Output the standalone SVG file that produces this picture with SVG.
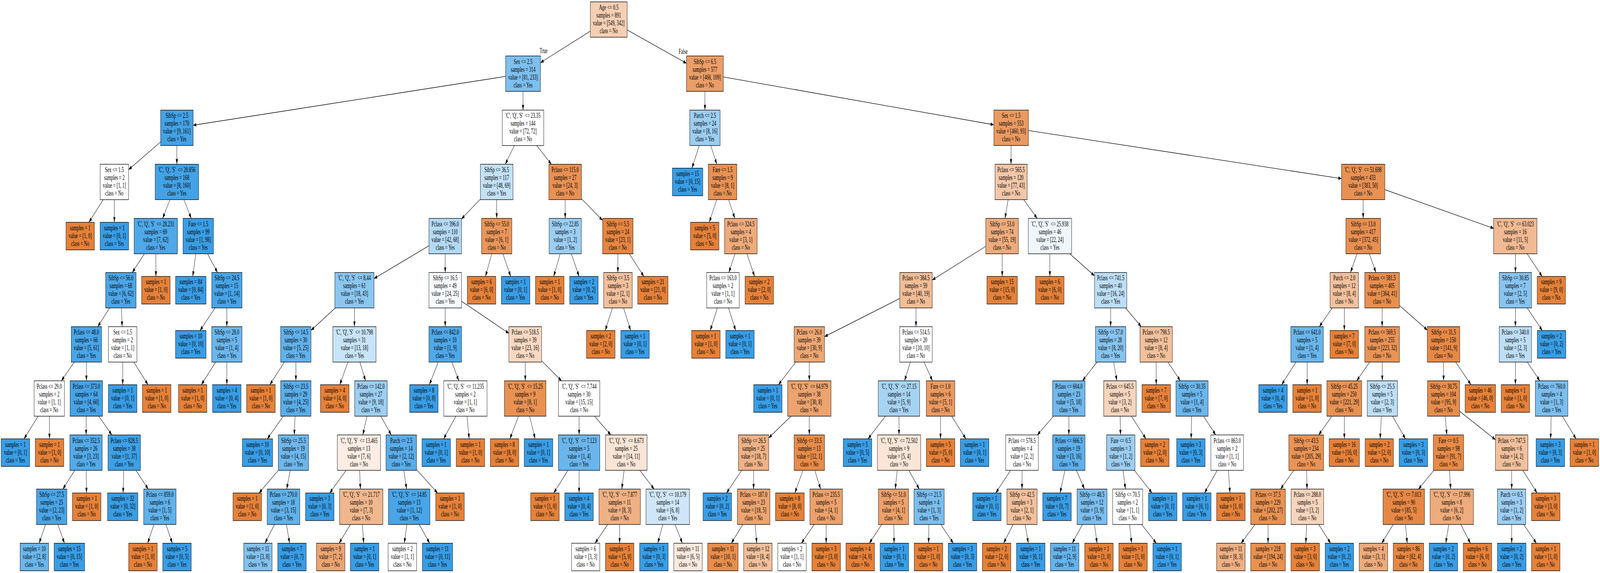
<svg xmlns="http://www.w3.org/2000/svg" width="6884" height="1468" viewBox="0 0 6884 1468" preserveAspectRatio="none">
<defs>
<marker id="a" markerUnits="userSpaceOnUse" markerWidth="14" markerHeight="10" refX="13.3" refY="4.67" orient="auto" style="overflow:visible"><path d="M0,0L13.3,4.67L0,9.33z" fill="#000"/></marker>
<style>
svg:root{width:100vw;height:100vh}
.n rect{stroke:#000;stroke-width:1.33}
text{font-family:"Liberation Serif","Times New Roman",Times,serif;font-size:18.4px;text-anchor:middle;fill:#000}
#edges line{stroke:#000;stroke-width:1.33;marker-end:url(#a)}
</style>
</defs>
<rect width="6884" height="1468" fill="#fff"/>
<g id="edges">
<line x1="2539.8" y1="79.9" x2="2325.5" y2="160.5"/>
<line x1="2698.2" y1="76.6" x2="2953.8" y2="162.2"/>
<line x1="2175.5" y1="195.7" x2="831" y2="320.9"/>
<line x1="2250.3" y1="234.1" x2="2250.3" y2="282.1"/>
<line x1="3033" y1="234.1" x2="3033" y2="282.1"/>
<line x1="3112.2" y1="197.1" x2="4275.6" y2="319.6"/>
<line x1="691" y1="363.5" x2="553.3" y2="434.6"/>
<line x1="761" y1="372.8" x2="761" y2="420.8"/>
<line x1="2213.1" y1="372.8" x2="2173.9" y2="420.8"/>
<line x1="2309.3" y1="372.8" x2="2372.2" y2="420.8"/>
<line x1="3008.5" y1="372.8" x2="2977.1" y2="430.8"/>
<line x1="3057.9" y1="372.8" x2="3084.1" y2="420.8"/>
<line x1="4350" y1="372.8" x2="4350" y2="420.8"/>
<line x1="4424.4" y1="334.3" x2="5771.8" y2="457.6"/>
<line x1="443.9" y1="511.5" x2="382.5" y2="569.5"/>
<line x1="492" y1="511.5" x2="492" y2="569.5"/>
<line x1="731.2" y1="511.5" x2="699.8" y2="559.5"/>
<line x1="791.1" y1="511.5" x2="822.9" y2="559.5"/>
<line x1="2067" y1="510" x2="1985.5" y2="561"/>
<line x1="2137" y1="511.5" x2="2137" y2="559.5"/>
<line x1="2431.7" y1="511.5" x2="2431.7" y2="559.5"/>
<line x1="2501.5" y1="509" x2="2592.7" y2="564.8"/>
<line x1="3083.8" y1="511.5" x2="3051.6" y2="569.5"/>
<line x1="3134.7" y1="511.5" x2="3161.8" y2="559.5"/>
<line x1="4337.4" y1="511.5" x2="4324.1" y2="559.5"/>
<line x1="4404.6" y1="511.5" x2="4462.4" y2="559.5"/>
<line x1="5865" y1="511.5" x2="5865" y2="559.5"/>
<line x1="5958.3" y1="485.9" x2="6426.7" y2="585.1"/>
<line x1="621" y1="650.2" x2="569" y2="698.2"/>
<line x1="670.5" y1="650.2" x2="670.8" y2="708.2"/>
<line x1="842.5" y1="650.2" x2="829.2" y2="708.2"/>
<line x1="893.2" y1="650.2" x2="935.8" y2="698.2"/>
<line x1="1845.5" y1="629.7" x2="1609.4" y2="713.6"/>
<line x1="1915.5" y1="650.2" x2="1915.5" y2="698.2"/>
<line x1="2115.7" y1="650.2" x2="2088.6" y2="708.2"/>
<line x1="2163.5" y1="650.2" x2="2197.4" y2="708.2"/>
<line x1="2410.1" y1="650.2" x2="2382.1" y2="708.2"/>
<line x1="2458.2" y1="650.2" x2="2491.6" y2="708.2"/>
<line x1="2658.5" y1="650.2" x2="2658.5" y2="698.2"/>
<line x1="2707.4" y1="650.2" x2="2770.5" y2="708.2"/>
<line x1="3162.3" y1="650.2" x2="3135.7" y2="698.2"/>
<line x1="3213.5" y1="650.2" x2="3246.7" y2="708.2"/>
<line x1="4241.5" y1="631" x2="4011" y2="717.3"/>
<line x1="4312" y1="650.2" x2="4312" y2="708.2"/>
<line x1="4517" y1="650.2" x2="4517" y2="708.2"/>
<line x1="4602.5" y1="650.2" x2="4709" y2="706.6"/>
<line x1="5838.5" y1="650.2" x2="5810.5" y2="698.2"/>
<line x1="5891.7" y1="650.2" x2="5919.9" y2="698.2"/>
<line x1="6520" y1="650.2" x2="6520" y2="698.2"/>
<line x1="6570.5" y1="650.2" x2="6635.1" y2="708.2"/>
<line x1="471.6" y1="788.9" x2="420.4" y2="836.9"/>
<line x1="522.6" y1="788.9" x2="525.4" y2="836.9"/>
<line x1="925.3" y1="788.9" x2="860.5" y2="846.9"/>
<line x1="976" y1="788.9" x2="976" y2="836.9"/>
<line x1="1442.6" y1="788.9" x2="1338.3" y2="846.3"/>
<line x1="1525" y1="788.9" x2="1525" y2="836.9"/>
<line x1="1915.5" y1="788.9" x2="1915.5" y2="836.9"/>
<line x1="1985.5" y1="771.7" x2="2189.8" y2="854"/>
<line x1="2634.8" y1="788.9" x2="2603.9" y2="846.9"/>
<line x1="2682.9" y1="788.9" x2="2713.4" y2="846.9"/>
<line x1="3086.5" y1="788.9" x2="3055.7" y2="846.9"/>
<line x1="3134.5" y1="788.9" x2="3165.3" y2="846.9"/>
<line x1="3871" y1="764.7" x2="3547.4" y2="862.5"/>
<line x1="3941" y1="788.9" x2="3941" y2="836.9"/>
<line x1="4778.5" y1="788.9" x2="4778.5" y2="836.9"/>
<line x1="4842.6" y1="788.9" x2="4910.4" y2="836.9"/>
<line x1="5731.7" y1="788.9" x2="5676.3" y2="836.9"/>
<line x1="5784" y1="788.9" x2="5784" y2="846.9"/>
<line x1="5946.6" y1="788.9" x2="5946.6" y2="836.9"/>
<line x1="6021.1" y1="782.6" x2="6141.2" y2="845.6"/>
<line x1="6520" y1="788.9" x2="6520" y2="836.9"/>
<line x1="6570.9" y1="788.9" x2="6635.9" y2="846.9"/>
<line x1="319.7" y1="927.6" x2="264.3" y2="975.6"/>
<line x1="371.8" y1="927.6" x2="371.7" y2="975.6"/>
<line x1="528" y1="927.6" x2="528" y2="985.6"/>
<line x1="575.7" y1="927.6" x2="636.8" y2="985.6"/>
<line x1="928" y1="927.6" x2="866.5" y2="985.6"/>
<line x1="976" y1="927.6" x2="976" y2="985.6"/>
<line x1="1223.8" y1="927.6" x2="1160.9" y2="985.6"/>
<line x1="1273" y1="927.6" x2="1273" y2="975.6"/>
<line x1="1497.2" y1="927.6" x2="1461.7" y2="985.6"/>
<line x1="1548.2" y1="927.6" x2="1572.8" y2="975.6"/>
<line x1="1885.6" y1="927.6" x2="1847.3" y2="985.6"/>
<line x1="1944" y1="927.6" x2="1974.1" y2="975.6"/>
<line x1="2260" y1="927.6" x2="2260" y2="975.6"/>
<line x1="2330.3" y1="924.3" x2="2415.9" y2="975.6"/>
<line x1="3423.8" y1="927.6" x2="3349.4" y2="985.6"/>
<line x1="3482" y1="927.6" x2="3482" y2="975.6"/>
<line x1="3917" y1="927.6" x2="3891.7" y2="975.6"/>
<line x1="3975.6" y1="927.6" x2="4012.1" y2="975.6"/>
<line x1="4719.7" y1="927.6" x2="4657.6" y2="975.6"/>
<line x1="4791.6" y1="927.6" x2="4805.4" y2="975.6"/>
<line x1="4974.5" y1="927.6" x2="4974.5" y2="985.6"/>
<line x1="5024.9" y1="927.6" x2="5078.3" y2="975.6"/>
<line x1="5576" y1="927.6" x2="5514.5" y2="985.6"/>
<line x1="5624" y1="927.6" x2="5624" y2="985.6"/>
<line x1="5893.4" y1="927.6" x2="5837.2" y2="975.6"/>
<line x1="5947" y1="927.6" x2="5947.3" y2="975.6"/>
<line x1="6211" y1="927.6" x2="6211" y2="975.6"/>
<line x1="6262.7" y1="927.6" x2="6328.7" y2="985.6"/>
<line x1="6520" y1="927.6" x2="6520" y2="985.6"/>
<line x1="6571" y1="927.6" x2="6625" y2="975.6"/>
<line x1="164.3" y1="1066.3" x2="103.2" y2="1124.3"/>
<line x1="212.3" y1="1066.3" x2="212.8" y2="1124.3"/>
<line x1="371" y1="1066.3" x2="370.5" y2="1114.3"/>
<line x1="424.8" y1="1066.3" x2="481.3" y2="1114.3"/>
<line x1="1219" y1="1066.3" x2="1150" y2="1124.3"/>
<line x1="1269.6" y1="1066.3" x2="1265.9" y2="1114.3"/>
<line x1="1579" y1="1066.3" x2="1561" y2="1114.3"/>
<line x1="1638.5" y1="1066.3" x2="1683.5" y2="1114.3"/>
<line x1="1961.4" y1="1066.3" x2="1908.8" y2="1124.3"/>
<line x1="2009.5" y1="1066.3" x2="2018.5" y2="1124.3"/>
<line x1="2230.9" y1="1066.3" x2="2193.7" y2="1124.3"/>
<line x1="2278.6" y1="1066.3" x2="2302.5" y2="1124.3"/>
<line x1="2491.6" y1="1066.3" x2="2491.6" y2="1114.3"/>
<line x1="2557.9" y1="1066.3" x2="2628.1" y2="1114.3"/>
<line x1="3403.5" y1="1066.3" x2="3307.3" y2="1121.9"/>
<line x1="3482" y1="1066.3" x2="3482" y2="1114.3"/>
<line x1="3809.4" y1="1066.3" x2="3734.9" y2="1124.3"/>
<line x1="3867.8" y1="1066.3" x2="3867.9" y2="1114.3"/>
<line x1="4046.7" y1="1066.3" x2="4046.7" y2="1124.3"/>
<line x1="4094.5" y1="1066.3" x2="4155.7" y2="1124.3"/>
<line x1="4532.8" y1="1066.3" x2="4463" y2="1114.3"/>
<line x1="4598.8" y1="1066.3" x2="4598.8" y2="1114.3"/>
<line x1="4819.6" y1="1066.3" x2="4820.9" y2="1114.3"/>
<line x1="4867.6" y1="1066.3" x2="4930.5" y2="1124.3"/>
<line x1="5127.1" y1="1066.3" x2="5124.9" y2="1124.3"/>
<line x1="5178.2" y1="1066.3" x2="5230.6" y2="1114.3"/>
<line x1="5730.4" y1="1066.3" x2="5673.6" y2="1114.3"/>
<line x1="5784" y1="1066.3" x2="5784" y2="1124.3"/>
<line x1="5943.4" y1="1066.3" x2="5937.9" y2="1124.3"/>
<line x1="5991.3" y1="1066.3" x2="6047" y2="1124.3"/>
<line x1="6217.9" y1="1066.3" x2="6225.1" y2="1114.3"/>
<line x1="6280.2" y1="1053.7" x2="6434.2" y2="1126.6"/>
<line x1="6674" y1="1066.3" x2="6671.5" y2="1124.3"/>
<line x1="6722.1" y1="1066.3" x2="6781.1" y2="1124.3"/>
<line x1="321.6" y1="1205" x2="270.4" y2="1253"/>
<line x1="371" y1="1205" x2="372.2" y2="1263"/>
<line x1="532.4" y1="1205" x2="529.7" y2="1263"/>
<line x1="584.8" y1="1205" x2="637.8" y2="1253"/>
<line x1="1197.6" y1="1205" x2="1114.6" y2="1263"/>
<line x1="1248.5" y1="1205" x2="1233.6" y2="1253"/>
<line x1="1489" y1="1205" x2="1418.7" y2="1263"/>
<line x1="1547.3" y1="1205" x2="1550.7" y2="1253"/>
<line x1="1737.4" y1="1205" x2="1749.4" y2="1253"/>
<line x1="1791.7" y1="1203" x2="1882.5" y2="1263"/>
<line x1="2443.7" y1="1205" x2="2382.4" y2="1263"/>
<line x1="2491.6" y1="1205" x2="2491.6" y2="1263"/>
<line x1="2685.1" y1="1205" x2="2675.3" y2="1253"/>
<line x1="2752.8" y1="1205" x2="2814.6" y2="1253"/>
<line x1="3191" y1="1205" x2="3125.8" y2="1263"/>
<line x1="3242.3" y1="1205" x2="3242.3" y2="1253"/>
<line x1="3454.7" y1="1205" x2="3419.8" y2="1263"/>
<line x1="3505.7" y1="1205" x2="3530.8" y2="1253"/>
<line x1="3860.2" y1="1205" x2="3851.8" y2="1253"/>
<line x1="3910.3" y1="1205" x2="3955.2" y2="1253"/>
<line x1="4347.6" y1="1205" x2="4284.5" y2="1263"/>
<line x1="4397.2" y1="1205" x2="4397.2" y2="1253"/>
<line x1="4582.1" y1="1205" x2="4560.7" y2="1263"/>
<line x1="4631.4" y1="1205" x2="4665.9" y2="1253"/>
<line x1="4831.8" y1="1205" x2="4842.2" y2="1253"/>
<line x1="4881" y1="1205" x2="4956.6" y2="1263"/>
<line x1="5237.2" y1="1205" x2="5182.4" y2="1263"/>
<line x1="5285.2" y1="1205" x2="5291.9" y2="1263"/>
<line x1="5566.3" y1="1205" x2="5509.5" y2="1253"/>
<line x1="5621.6" y1="1205" x2="5623.4" y2="1253"/>
<line x1="6169.2" y1="1205" x2="6102.8" y2="1253"/>
<line x1="6236.6" y1="1205" x2="6241.4" y2="1253"/>
<line x1="6504" y1="1205" x2="6504" y2="1253"/>
<line x1="6552" y1="1205" x2="6613.3" y2="1263"/>
<line x1="195.9" y1="1343.7" x2="168.3" y2="1391.7"/>
<line x1="249" y1="1343.7" x2="277.5" y2="1391.7"/>
<line x1="662.3" y1="1343.7" x2="635.1" y2="1391.7"/>
<line x1="714" y1="1343.7" x2="741.5" y2="1391.7"/>
<line x1="1180.9" y1="1343.7" x2="1140" y2="1391.7"/>
<line x1="1232.4" y1="1343.7" x2="1246" y2="1391.7"/>
<line x1="1507.7" y1="1343.7" x2="1458.8" y2="1391.7"/>
<line x1="1559.2" y1="1343.7" x2="1564.7" y2="1391.7"/>
<line x1="1750.4" y1="1343.7" x2="1739.5" y2="1391.7"/>
<line x1="1803.5" y1="1343.7" x2="1848.7" y2="1391.7"/>
<line x1="2614.5" y1="1343.7" x2="2560" y2="1391.7"/>
<line x1="2666" y1="1343.7" x2="2666" y2="1391.7"/>
<line x1="2852" y1="1343.7" x2="2829.8" y2="1391.7"/>
<line x1="2903.7" y1="1343.7" x2="2936.1" y2="1391.7"/>
<line x1="3195.9" y1="1343.7" x2="3146.4" y2="1391.7"/>
<line x1="3249.1" y1="1343.7" x2="3256" y2="1391.7"/>
<line x1="3502.8" y1="1343.7" x2="3448" y2="1391.7"/>
<line x1="3554.5" y1="1343.7" x2="3554.5" y2="1391.7"/>
<line x1="3793.6" y1="1343.7" x2="3740.3" y2="1391.7"/>
<line x1="3845.4" y1="1343.7" x2="3846.9" y2="1391.7"/>
<line x1="3996.5" y1="1343.7" x2="3995.4" y2="1391.7"/>
<line x1="4048.1" y1="1343.7" x2="4101.6" y2="1391.7"/>
<line x1="4358.8" y1="1343.7" x2="4318" y2="1391.7"/>
<line x1="4410.5" y1="1343.7" x2="4424.4" y2="1391.7"/>
<line x1="4657" y1="1343.7" x2="4613.1" y2="1391.7"/>
<line x1="4709" y1="1343.7" x2="4720.1" y2="1391.7"/>
<line x1="4860.1" y1="1343.7" x2="4868.7" y2="1391.7"/>
<line x1="4911.8" y1="1343.7" x2="4975.1" y2="1391.7"/>
<line x1="5399.5" y1="1343.7" x2="5339.9" y2="1391.7"/>
<line x1="5455.8" y1="1343.7" x2="5455.8" y2="1391.7"/>
<line x1="5621.7" y1="1343.7" x2="5618.3" y2="1391.7"/>
<line x1="5673.5" y1="1343.7" x2="5724.9" y2="1391.7"/>
<line x1="5993.8" y1="1343.7" x2="5945" y2="1391.7"/>
<line x1="6047" y1="1343.7" x2="6054.5" y2="1391.7"/>
<line x1="6233.5" y1="1343.7" x2="6220.3" y2="1391.7"/>
<line x1="6285.1" y1="1343.7" x2="6326.5" y2="1391.7"/>
<line x1="6504" y1="1343.7" x2="6504" y2="1391.7"/>
<line x1="6555.7" y1="1343.7" x2="6610.4" y2="1391.7"/>
<text x="2338.7" y="136.5">True</text>
<text x="2939" y="138.5">False</text>
</g>
<g id="n0" class="n" transform="translate(2619,4.7)"><rect x="-79.2" width="158.4" height="90.7" fill="#f5cfb4"/><text y="20.3">Age &lt;= 0.5<tspan x="0" dy="20">samples = 891</tspan><tspan x="0" dy="20">value = [549, 342]</tspan><tspan x="0" dy="20">class = No</tspan></text></g>
<g id="n1" class="n" transform="translate(2250.5,143.4)"><rect x="-75" width="150" height="90.7" fill="#7ebfee"/><text y="20.3">Sex &lt;= 2.5<tspan x="0" dy="20">samples = 314</tspan><tspan x="0" dy="20">value = [81, 233]</tspan><tspan x="0" dy="20">class = Yes</tspan></text></g>
<g id="n2" class="n" transform="translate(3033,143.4)"><rect x="-79.2" width="158.4" height="90.7" fill="#eb9e67"/><text y="20.3">SibSp &lt;= 6.5<tspan x="0" dy="20">samples = 577</tspan><tspan x="0" dy="20">value = [468, 109]</tspan><tspan x="0" dy="20">class = No</tspan></text></g>
<g id="n3" class="n" transform="translate(761,282.1)"><rect x="-70" width="140" height="90.7" fill="#44a2e6"/><text y="20.3">SibSp &lt;= 2.5<tspan x="0" dy="20">samples = 170</tspan><tspan x="0" dy="20">value = [9, 161]</tspan><tspan x="0" dy="20">class = Yes</tspan></text></g>
<g id="n4" class="n" transform="translate(2250.2,282.1)"><rect x="-89.2" width="178.4" height="90.7" fill="#ffffff"/><text y="20.3">'C', 'Q', 'S'&#160; &lt;= 23.35<tspan x="0" dy="20">samples = 144</tspan><tspan x="0" dy="20">value = [72, 72]</tspan><tspan x="0" dy="20">class = No</tspan></text></g>
<g id="n5" class="n" transform="translate(3033,282.1)"><rect x="-65.3" width="130.5" height="90.7" fill="#9ccef2"/><text y="20.3">Parch &lt;= 2.5<tspan x="0" dy="20">samples = 24</tspan><tspan x="0" dy="20">value = [8, 16]</tspan><tspan x="0" dy="20">class = Yes</tspan></text></g>
<g id="n6" class="n" transform="translate(4350.4,282.1)"><rect x="-74.4" width="148.8" height="90.7" fill="#ea9a61"/><text y="20.3">Sex &lt;= 1.5<tspan x="0" dy="20">samples = 553</tspan><tspan x="0" dy="20">value = [460, 93]</tspan><tspan x="0" dy="20">class = No</tspan></text></g>
<g id="n7" class="n" transform="translate(492,420.8)"><rect x="-61.3" width="122.5" height="90.7" fill="#ffffff"/><text y="20.3">Sex &lt;= 1.5<tspan x="0" dy="20">samples = 2</tspan><tspan x="0" dy="20">value = [1, 1]</tspan><tspan x="0" dy="20">class = No</tspan></text></g>
<g id="n8" class="n" transform="translate(761,420.8)"><rect x="-93.5" width="187" height="90.7" fill="#43a2e6"/><text y="20.3">'C', 'Q', 'S'&#160; &lt;= 28.856<tspan x="0" dy="20">samples = 168</tspan><tspan x="0" dy="20">value = [8, 160]</tspan><tspan x="0" dy="20">class = Yes</tspan></text></g>
<g id="n9" class="n" transform="translate(2137,420.8)"><rect x="-70" width="140" height="90.7" fill="#c3e1f7"/><text y="20.3">SibSp &lt;= 36.5<tspan x="0" dy="20">samples = 117</tspan><tspan x="0" dy="20">value = [48, 69]</tspan><tspan x="0" dy="20">class = Yes</tspan></text></g>
<g id="n10" class="n" transform="translate(2431.5,420.8)"><rect x="-70" width="140" height="90.7" fill="#e89152"/><text y="20.3">Pclass &lt;= 115.0<tspan x="0" dy="20">samples = 27</tspan><tspan x="0" dy="20">value = [24, 3]</tspan><tspan x="0" dy="20">class = No</tspan></text></g>
<g id="n11" class="n" transform="translate(2958.3,430.8)"><rect x="-65.3" width="130.7" height="70.7" fill="#399de5"/><text y="20.3">samples = 15<tspan x="0" dy="20">value = [0, 15]</tspan><tspan x="0" dy="20">class = Yes</tspan></text></g>
<g id="n12" class="n" transform="translate(3109,420.8)"><rect x="-61" width="122" height="90.7" fill="#e89152"/><text y="20.3">Fare &lt;= 1.5<tspan x="0" dy="20">samples = 9</tspan><tspan x="0" dy="20">value = [8, 1]</tspan><tspan x="0" dy="20">class = No</tspan></text></g>
<g id="n13" class="n" transform="translate(4350.3,420.8)"><rect x="-69.3" width="138.6" height="90.7" fill="#f3c7a8"/><text y="20.3">Pclass &lt;= 565.5<tspan x="0" dy="20">samples = 120</tspan><tspan x="0" dy="20">value = [77, 43]</tspan><tspan x="0" dy="20">class = No</tspan></text></g>
<g id="n14" class="n" transform="translate(5865,420.8)"><rect x="-93.3" width="186.5" height="90.7" fill="#e89153"/><text y="20.3">'C', 'Q', 'S'&#160; &lt;= 51.698<tspan x="0" dy="20">samples = 433</tspan><tspan x="0" dy="20">value = [383, 50]</tspan><tspan x="0" dy="20">class = No</tspan></text></g>
<g id="n15" class="n" transform="translate(345,569.5)"><rect x="-61" width="122" height="70.7" fill="#e58139"/><text y="20.3">samples = 1<tspan x="0" dy="20">value = [1, 0]</tspan><tspan x="0" dy="20">class = No</tspan></text></g>
<g id="n16" class="n" transform="translate(492,569.5)"><rect x="-61.3" width="122.5" height="70.7" fill="#399de5"/><text y="20.3">samples = 1<tspan x="0" dy="20">value = [0, 1]</tspan><tspan x="0" dy="20">class = Yes</tspan></text></g>
<g id="n17" class="n" transform="translate(670.2,559.5)"><rect x="-93.3" width="186.5" height="90.7" fill="#4fa8e8"/><text y="20.3">'C', 'Q', 'S'&#160; &lt;= 28.231<tspan x="0" dy="20">samples = 69</tspan><tspan x="0" dy="20">value = [7, 62]</tspan><tspan x="0" dy="20">class = Yes</tspan></text></g>
<g id="n18" class="n" transform="translate(853,559.5)"><rect x="-65.3" width="130.5" height="90.7" fill="#3b9ee5"/><text y="20.3">Fare &lt;= 1.5<tspan x="0" dy="20">samples = 99</tspan><tspan x="0" dy="20">value = [1, 98]</tspan><tspan x="0" dy="20">class = Yes</tspan></text></g>
<g id="n19" class="n" transform="translate(1915.5,559.5)"><rect x="-70" width="140" height="90.7" fill="#b3daf5"/><text y="20.3">Pclass &lt;= 396.0<tspan x="0" dy="20">samples = 110</tspan><tspan x="0" dy="20">value = [42, 68]</tspan><tspan x="0" dy="20">class = Yes</tspan></text></g>
<g id="n20" class="n" transform="translate(2137,559.5)"><rect x="-65" width="130" height="90.7" fill="#e9965a"/><text y="20.3">SibSp &lt;= 55.0<tspan x="0" dy="20">samples = 7</tspan><tspan x="0" dy="20">value = [6, 1]</tspan><tspan x="0" dy="20">class = No</tspan></text></g>
<g id="n21" class="n" transform="translate(2432,559.5)"><rect x="-69.3" width="138.5" height="90.7" fill="#9ccef2"/><text y="20.3">SibSp &lt;= 22.85<tspan x="0" dy="20">samples = 3</tspan><tspan x="0" dy="20">value = [1, 2]</tspan><tspan x="0" dy="20">class = Yes</tspan></text></g>
<g id="n22" class="n" transform="translate(2658.3,559.5)"><rect x="-65.3" width="130.7" height="90.7" fill="#e68642"/><text y="20.3">SibSp &lt;= 5.5<tspan x="0" dy="20">samples = 24</tspan><tspan x="0" dy="20">value = [23, 1]</tspan><tspan x="0" dy="20">class = No</tspan></text></g>
<g id="n23" class="n" transform="translate(3032,569.5)"><rect x="-61" width="122" height="70.7" fill="#e58139"/><text y="20.3">samples = 5<tspan x="0" dy="20">value = [5, 0]</tspan><tspan x="0" dy="20">class = No</tspan></text></g>
<g id="n24" class="n" transform="translate(3187.5,559.5)"><rect x="-70" width="140" height="90.7" fill="#eeab7b"/><text y="20.3">Pclass &lt;= 324.5<tspan x="0" dy="20">samples = 4</tspan><tspan x="0" dy="20">value = [3, 1]</tspan><tspan x="0" dy="20">class = No</tspan></text></g>
<g id="n25" class="n" transform="translate(4311.5,559.5)"><rect x="-70" width="140" height="90.7" fill="#eeac7d"/><text y="20.3">SibSp &lt;= 53.0<tspan x="0" dy="20">samples = 74</tspan><tspan x="0" dy="20">value = [55, 19]</tspan><tspan x="0" dy="20">class = No</tspan></text></g>
<g id="n26" class="n" transform="translate(4517.3,559.5)"><rect x="-93.3" width="186.6" height="90.7" fill="#eff6fd"/><text y="20.3">'C', 'Q', 'S'&#160; &lt;= 25.938<tspan x="0" dy="20">samples = 46</tspan><tspan x="0" dy="20">value = [22, 24]</tspan><tspan x="0" dy="20">class = Yes</tspan></text></g>
<g id="n27" class="n" transform="translate(5865.3,559.5)"><rect x="-74.7" width="149.4" height="90.7" fill="#e89051"/><text y="20.3">SibSp &lt;= 13.0<tspan x="0" dy="20">samples = 417</tspan><tspan x="0" dy="20">value = [372, 45]</tspan><tspan x="0" dy="20">class = No</tspan></text></g>
<g id="n28" class="n" transform="translate(6519.7,559.5)"><rect x="-93.3" width="186.6" height="90.7" fill="#f1ba93"/><text y="20.3">'C', 'Q', 'S'&#160; &lt;= 63.023<tspan x="0" dy="20">samples = 16</tspan><tspan x="0" dy="20">value = [11, 5]</tspan><tspan x="0" dy="20">class = No</tspan></text></g>
<g id="n29" class="n" transform="translate(520,698.2)"><rect x="-65.3" width="130.6" height="90.7" fill="#4ca6e7"/><text y="20.3">SibSp &lt;= 56.0<tspan x="0" dy="20">samples = 68</tspan><tspan x="0" dy="20">value = [6, 62]</tspan><tspan x="0" dy="20">class = Yes</tspan></text></g>
<g id="n30" class="n" transform="translate(670.8,708.2)"><rect x="-61.3" width="122.5" height="70.7" fill="#e58139"/><text y="20.3">samples = 1<tspan x="0" dy="20">value = [1, 0]</tspan><tspan x="0" dy="20">class = No</tspan></text></g>
<g id="n31" class="n" transform="translate(821,708.2)"><rect x="-65.7" width="131.3" height="70.7" fill="#399de5"/><text y="20.3">samples = 84<tspan x="0" dy="20">value = [0, 84]</tspan><tspan x="0" dy="20">class = Yes</tspan></text></g>
<g id="n32" class="n" transform="translate(976.2,698.2)"><rect x="-65.2" width="130.4" height="90.7" fill="#47a4e7"/><text y="20.3">SibSp &lt;= 24.5<tspan x="0" dy="20">samples = 15</tspan><tspan x="0" dy="20">value = [1, 14]</tspan><tspan x="0" dy="20">class = Yes</tspan></text></g>
<g id="n33" class="n" transform="translate(1525,698.2)"><rect x="-84.4" width="168.7" height="90.7" fill="#8cc6f0"/><text y="20.3">'C', 'Q', 'S'&#160; &lt;= 8.44<tspan x="0" dy="20">samples = 61</tspan><tspan x="0" dy="20">value = [18, 43]</tspan><tspan x="0" dy="20">class = Yes</tspan></text></g>
<g id="n34" class="n" transform="translate(1915.5,698.2)"><rect x="-70" width="140" height="90.7" fill="#f7fbfe"/><text y="20.3">SibSp &lt;= 16.5<tspan x="0" dy="20">samples = 49</tspan><tspan x="0" dy="20">value = [24, 25]</tspan><tspan x="0" dy="20">class = Yes</tspan></text></g>
<g id="n35" class="n" transform="translate(2071.8,708.2)"><rect x="-61.2" width="122.4" height="70.7" fill="#e58139"/><text y="20.3">samples = 6<tspan x="0" dy="20">value = [6, 0]</tspan><tspan x="0" dy="20">class = No</tspan></text></g>
<g id="n36" class="n" transform="translate(2218.3,708.2)"><rect x="-61.3" width="122.7" height="70.7" fill="#399de5"/><text y="20.3">samples = 1<tspan x="0" dy="20">value = [0, 1]</tspan><tspan x="0" dy="20">class = Yes</tspan></text></g>
<g id="n37" class="n" transform="translate(2365.3,708.2)"><rect x="-61.3" width="122.7" height="70.7" fill="#e58139"/><text y="20.3">samples = 1<tspan x="0" dy="20">value = [1, 0]</tspan><tspan x="0" dy="20">class = No</tspan></text></g>
<g id="n38" class="n" transform="translate(2512.2,708.2)"><rect x="-61.2" width="122.4" height="70.7" fill="#399de5"/><text y="20.3">samples = 2<tspan x="0" dy="20">value = [0, 2]</tspan><tspan x="0" dy="20">class = Yes</tspan></text></g>
<g id="n39" class="n" transform="translate(2658.8,698.2)"><rect x="-61.2" width="122.4" height="90.7" fill="#f2c09c"/><text y="20.3">SibSp &lt;= 3.5<tspan x="0" dy="20">samples = 3</tspan><tspan x="0" dy="20">value = [2, 1]</tspan><tspan x="0" dy="20">class = No</tspan></text></g>
<g id="n40" class="n" transform="translate(2809,708.2)"><rect x="-65" width="130" height="70.7" fill="#e58139"/><text y="20.3">samples = 21<tspan x="0" dy="20">value = [21, 0]</tspan><tspan x="0" dy="20">class = No</tspan></text></g>
<g id="n41" class="n" transform="translate(3110.5,698.2)"><rect x="-70" width="140" height="90.7" fill="#ffffff"/><text y="20.3">Pclass &lt;= 163.0<tspan x="0" dy="20">samples = 2</tspan><tspan x="0" dy="20">value = [1, 1]</tspan><tspan x="0" dy="20">class = No</tspan></text></g>
<g id="n42" class="n" transform="translate(3266.8,708.2)"><rect x="-61.2" width="122.4" height="70.7" fill="#e58139"/><text y="20.3">samples = 2<tspan x="0" dy="20">value = [2, 0]</tspan><tspan x="0" dy="20">class = No</tspan></text></g>
<g id="n43" class="n" transform="translate(3941,698.2)"><rect x="-70" width="140" height="90.7" fill="#f1bd97"/><text y="20.3">Pclass &lt;= 384.5<tspan x="0" dy="20">samples = 59</tspan><tspan x="0" dy="20">value = [40, 19]</tspan><tspan x="0" dy="20">class = No</tspan></text></g>
<g id="n44" class="n" transform="translate(4311.7,708.2)"><rect x="-65.3" width="130.5" height="70.7" fill="#e58139"/><text y="20.3">samples = 15<tspan x="0" dy="20">value = [15, 0]</tspan><tspan x="0" dy="20">class = No</tspan></text></g>
<g id="n45" class="n" transform="translate(4516.8,708.2)"><rect x="-61.2" width="122.4" height="70.7" fill="#e58139"/><text y="20.3">samples = 6<tspan x="0" dy="20">value = [6, 0]</tspan><tspan x="0" dy="20">class = No</tspan></text></g>
<g id="n46" class="n" transform="translate(4778.6,698.2)"><rect x="-69.6" width="139.2" height="90.7" fill="#bddef6"/><text y="20.3">Pclass &lt;= 741.5<tspan x="0" dy="20">samples = 40</tspan><tspan x="0" dy="20">value = [16, 24]</tspan><tspan x="0" dy="20">class = Yes</tspan></text></g>
<g id="n47" class="n" transform="translate(5783.8,698.2)"><rect x="-61.2" width="122.4" height="90.7" fill="#f2c09c"/><text y="20.3">Parch &lt;= 2.0<tspan x="0" dy="20">samples = 12</tspan><tspan x="0" dy="20">value = [8, 4]</tspan><tspan x="0" dy="20">class = No</tspan></text></g>
<g id="n48" class="n" transform="translate(5946.5,698.2)"><rect x="-74.5" width="149" height="90.7" fill="#e88f4f"/><text y="20.3">Pclass &lt;= 581.5<tspan x="0" dy="20">samples = 405</tspan><tspan x="0" dy="20">value = [364, 41]</tspan><tspan x="0" dy="20">class = No</tspan></text></g>
<g id="n49" class="n" transform="translate(6520,698.2)"><rect x="-69.5" width="139" height="90.7" fill="#88c4ef"/><text y="20.3">SibSp &lt;= 30.85<tspan x="0" dy="20">samples = 7</tspan><tspan x="0" dy="20">value = [2, 5]</tspan><tspan x="0" dy="20">class = Yes</tspan></text></g>
<g id="n50" class="n" transform="translate(6674.5,708.2)"><rect x="-60.8" width="121.6" height="70.7" fill="#e58139"/><text y="20.3">samples = 9<tspan x="0" dy="20">value = [9, 0]</tspan><tspan x="0" dy="20">class = No</tspan></text></g>
<g id="n51" class="n" transform="translate(371.8,836.9)"><rect x="-65.2" width="130.4" height="90.7" fill="#49a5e7"/><text y="20.3">Pclass &lt;= 48.0<tspan x="0" dy="20">samples = 66</tspan><tspan x="0" dy="20">value = [5, 61]</tspan><tspan x="0" dy="20">class = Yes</tspan></text></g>
<g id="n52" class="n" transform="translate(527.8,836.9)"><rect x="-61.3" width="122.5" height="90.7" fill="#ffffff"/><text y="20.3">Sex &lt;= 1.5<tspan x="0" dy="20">samples = 2</tspan><tspan x="0" dy="20">value = [1, 1]</tspan><tspan x="0" dy="20">class = No</tspan></text></g>
<g id="n53" class="n" transform="translate(820.9,846.9)"><rect x="-65.9" width="131.7" height="70.7" fill="#399de5"/><text y="20.3">samples = 10<tspan x="0" dy="20">value = [0, 10]</tspan><tspan x="0" dy="20">class = Yes</tspan></text></g>
<g id="n54" class="n" transform="translate(976,836.9)"><rect x="-65" width="130" height="90.7" fill="#6ab6ec"/><text y="20.3">SibSp &lt;= 28.0<tspan x="0" dy="20">samples = 5</tspan><tspan x="0" dy="20">value = [1, 4]</tspan><tspan x="0" dy="20">class = Yes</tspan></text></g>
<g id="n55" class="n" transform="translate(1272.8,836.9)"><rect x="-65.3" width="130.5" height="90.7" fill="#61b1ea"/><text y="20.3">SibSp &lt;= 14.5<tspan x="0" dy="20">samples = 30</tspan><tspan x="0" dy="20">value = [5, 25]</tspan><tspan x="0" dy="20">class = Yes</tspan></text></g>
<g id="n56" class="n" transform="translate(1525,836.9)"><rect x="-93" width="186" height="90.7" fill="#c8e4f8"/><text y="20.3">'C', 'Q', 'S'&#160; &lt;= 10.798<tspan x="0" dy="20">samples = 31</tspan><tspan x="0" dy="20">value = [13, 18]</tspan><tspan x="0" dy="20">class = Yes</tspan></text></g>
<g id="n57" class="n" transform="translate(1915.5,836.9)"><rect x="-70" width="140" height="90.7" fill="#4fa8e8"/><text y="20.3">Pclass &lt;= 842.0<tspan x="0" dy="20">samples = 10</tspan><tspan x="0" dy="20">value = [1, 9]</tspan><tspan x="0" dy="20">class = Yes</tspan></text></g>
<g id="n58" class="n" transform="translate(2259.8,836.9)"><rect x="-70.3" width="140.5" height="90.7" fill="#f7d9c3"/><text y="20.3">Pclass &lt;= 518.5<tspan x="0" dy="20">samples = 39</tspan><tspan x="0" dy="20">value = [23, 16]</tspan><tspan x="0" dy="20">class = No</tspan></text></g>
<g id="n59" class="n" transform="translate(2584.8,846.9)"><rect x="-61.3" width="122.5" height="70.7" fill="#e58139"/><text y="20.3">samples = 2<tspan x="0" dy="20">value = [2, 0]</tspan><tspan x="0" dy="20">class = No</tspan></text></g>
<g id="n60" class="n" transform="translate(2732.2,846.9)"><rect x="-61.2" width="122.4" height="70.7" fill="#399de5"/><text y="20.3">samples = 1<tspan x="0" dy="20">value = [0, 1]</tspan><tspan x="0" dy="20">class = Yes</tspan></text></g>
<g id="n61" class="n" transform="translate(3037.3,846.9)"><rect x="-61.3" width="122.5" height="70.7" fill="#e58139"/><text y="20.3">samples = 1<tspan x="0" dy="20">value = [1, 0]</tspan><tspan x="0" dy="20">class = No</tspan></text></g>
<g id="n62" class="n" transform="translate(3183.9,846.9)"><rect x="-61.2" width="122.3" height="70.7" fill="#399de5"/><text y="20.3">samples = 1<tspan x="0" dy="20">value = [0, 1]</tspan><tspan x="0" dy="20">class = Yes</tspan></text></g>
<g id="n63" class="n" transform="translate(3482.2,836.9)"><rect x="-65.4" width="130.8" height="90.7" fill="#eda774"/><text y="20.3">Pclass &lt;= 26.0<tspan x="0" dy="20">samples = 39</tspan><tspan x="0" dy="20">value = [30, 9]</tspan><tspan x="0" dy="20">class = No</tspan></text></g>
<g id="n64" class="n" transform="translate(3941,836.9)"><rect x="-70" width="140" height="90.7" fill="#ffffff"/><text y="20.3">Pclass &lt;= 514.5<tspan x="0" dy="20">samples = 20</tspan><tspan x="0" dy="20">value = [10, 10]</tspan><tspan x="0" dy="20">class = No</tspan></text></g>
<g id="n65" class="n" transform="translate(4778.4,836.9)"><rect x="-65.4" width="130.8" height="90.7" fill="#88c4ef"/><text y="20.3">SibSp &lt;= 57.0<tspan x="0" dy="20">samples = 28</tspan><tspan x="0" dy="20">value = [8, 20]</tspan><tspan x="0" dy="20">class = Yes</tspan></text></g>
<g id="n66" class="n" transform="translate(4974.4,836.9)"><rect x="-69.7" width="139.3" height="90.7" fill="#f2c09c"/><text y="20.3">Pclass &lt;= 798.5<tspan x="0" dy="20">samples = 12</tspan><tspan x="0" dy="20">value = [8, 4]</tspan><tspan x="0" dy="20">class = No</tspan></text></g>
<g id="n67" class="n" transform="translate(5623.8,836.9)"><rect x="-70" width="140" height="90.7" fill="#6ab6ec"/><text y="20.3">Pclass &lt;= 641.0<tspan x="0" dy="20">samples = 5</tspan><tspan x="0" dy="20">value = [1, 4]</tspan><tspan x="0" dy="20">class = Yes</tspan></text></g>
<g id="n68" class="n" transform="translate(5783.8,846.9)"><rect x="-61.2" width="122.4" height="70.7" fill="#e58139"/><text y="20.3">samples = 7<tspan x="0" dy="20">value = [7, 0]</tspan><tspan x="0" dy="20">class = No</tspan></text></g>
<g id="n69" class="n" transform="translate(5946.5,836.9)"><rect x="-74.5" width="149" height="90.7" fill="#e99355"/><text y="20.3">Pclass &lt;= 569.5<tspan x="0" dy="20">samples = 255</tspan><tspan x="0" dy="20">value = [223, 32]</tspan><tspan x="0" dy="20">class = No</tspan></text></g>
<g id="n70" class="n" transform="translate(6210.9,836.9)"><rect x="-69.9" width="139.7" height="90.7" fill="#e78946"/><text y="20.3">SibSp &lt;= 31.5<tspan x="0" dy="20">samples = 150</tspan><tspan x="0" dy="20">value = [141, 9]</tspan><tspan x="0" dy="20">class = No</tspan></text></g>
<g id="n71" class="n" transform="translate(6520,836.9)"><rect x="-69.5" width="139" height="90.7" fill="#bddef6"/><text y="20.3">Pclass &lt;= 340.0<tspan x="0" dy="20">samples = 5</tspan><tspan x="0" dy="20">value = [2, 3]</tspan><tspan x="0" dy="20">class = Yes</tspan></text></g>
<g id="n72" class="n" transform="translate(6675.6,846.9)"><rect x="-61.2" width="122.4" height="70.7" fill="#399de5"/><text y="20.3">samples = 2<tspan x="0" dy="20">value = [0, 2]</tspan><tspan x="0" dy="20">class = Yes</tspan></text></g>
<g id="n73" class="n" transform="translate(212,975.6)"><rect x="-65.3" width="130.5" height="90.7" fill="#ffffff"/><text y="20.3">Pclass &lt;= 29.0<tspan x="0" dy="20">samples = 2</tspan><tspan x="0" dy="20">value = [1, 1]</tspan><tspan x="0" dy="20">class = No</tspan></text></g>
<g id="n74" class="n" transform="translate(371.5,975.6)"><rect x="-70" width="140" height="90.7" fill="#46a3e7"/><text y="20.3">Pclass &lt;= 373.0<tspan x="0" dy="20">samples = 64</tspan><tspan x="0" dy="20">value = [4, 60]</tspan><tspan x="0" dy="20">class = Yes</tspan></text></g>
<g id="n75" class="n" transform="translate(527.8,985.6)"><rect x="-61.3" width="122.5" height="70.7" fill="#399de5"/><text y="20.3">samples = 1<tspan x="0" dy="20">value = [0, 1]</tspan><tspan x="0" dy="20">class = Yes</tspan></text></g>
<g id="n76" class="n" transform="translate(674.3,985.6)"><rect x="-61.3" width="122.6" height="70.7" fill="#e58139"/><text y="20.3">samples = 1<tspan x="0" dy="20">value = [1, 0]</tspan><tspan x="0" dy="20">class = No</tspan></text></g>
<g id="n77" class="n" transform="translate(829,985.6)"><rect x="-61" width="122" height="70.7" fill="#e58139"/><text y="20.3">samples = 1<tspan x="0" dy="20">value = [1, 0]</tspan><tspan x="0" dy="20">class = No</tspan></text></g>
<g id="n78" class="n" transform="translate(975.8,985.6)"><rect x="-61.2" width="122.4" height="70.7" fill="#399de5"/><text y="20.3">samples = 4<tspan x="0" dy="20">value = [0, 4]</tspan><tspan x="0" dy="20">class = Yes</tspan></text></g>
<g id="n79" class="n" transform="translate(1122.5,985.6)"><rect x="-61.5" width="123" height="70.7" fill="#e58139"/><text y="20.3">samples = 1<tspan x="0" dy="20">value = [1, 0]</tspan><tspan x="0" dy="20">class = No</tspan></text></g>
<g id="n80" class="n" transform="translate(1272.8,975.6)"><rect x="-65.3" width="130.5" height="90.7" fill="#59ade9"/><text y="20.3">SibSp &lt;= 23.5<tspan x="0" dy="20">samples = 29</tspan><tspan x="0" dy="20">value = [4, 25]</tspan><tspan x="0" dy="20">class = Yes</tspan></text></g>
<g id="n81" class="n" transform="translate(1440.3,985.6)"><rect x="-61.3" width="122.6" height="70.7" fill="#e58139"/><text y="20.3">samples = 4<tspan x="0" dy="20">value = [4, 0]</tspan><tspan x="0" dy="20">class = No</tspan></text></g>
<g id="n82" class="n" transform="translate(1595.9,975.6)"><rect x="-70" width="140" height="90.7" fill="#9ccef2"/><text y="20.3">Pclass &lt;= 142.0<tspan x="0" dy="20">samples = 27</tspan><tspan x="0" dy="20">value = [9, 18]</tspan><tspan x="0" dy="20">class = Yes</tspan></text></g>
<g id="n83" class="n" transform="translate(1823.9,985.6)"><rect x="-61.2" width="122.3" height="70.7" fill="#399de5"/><text y="20.3">samples = 8<tspan x="0" dy="20">value = [0, 8]</tspan><tspan x="0" dy="20">class = Yes</tspan></text></g>
<g id="n84" class="n" transform="translate(2002.5,975.6)"><rect x="-93.2" width="186.3" height="90.7" fill="#ffffff"/><text y="20.3">'C', 'Q', 'S'&#160; &lt;= 11.235<tspan x="0" dy="20">samples = 2</tspan><tspan x="0" dy="20">value = [1, 1]</tspan><tspan x="0" dy="20">class = No</tspan></text></g>
<g id="n85" class="n" transform="translate(2259.7,975.6)"><rect x="-89.3" width="178.6" height="90.7" fill="#e89152"/><text y="20.3">'C', 'Q', 'S'&#160; &lt;= 15.25<tspan x="0" dy="20">samples = 9</tspan><tspan x="0" dy="20">value = [8, 1]</tspan><tspan x="0" dy="20">class = No</tspan></text></g>
<g id="n86" class="n" transform="translate(2491.6,975.6)"><rect x="-89.1" width="178.2" height="90.7" fill="#ffffff"/><text y="20.3">'C', 'Q', 'S'&#160; &lt;= 7.744<tspan x="0" dy="20">samples = 30</tspan><tspan x="0" dy="20">value = [15, 15]</tspan><tspan x="0" dy="20">class = No</tspan></text></g>
<g id="n87" class="n" transform="translate(3303.9,985.6)"><rect x="-60.9" width="121.7" height="70.7" fill="#399de5"/><text y="20.3">samples = 1<tspan x="0" dy="20">value = [0, 1]</tspan><tspan x="0" dy="20">class = Yes</tspan></text></g>
<g id="n88" class="n" transform="translate(3482.2,975.6)"><rect x="-93.3" width="186.5" height="90.7" fill="#eca36e"/><text y="20.3">'C', 'Q', 'S'&#160; &lt;= 64.979<tspan x="0" dy="20">samples = 38</tspan><tspan x="0" dy="20">value = [30, 8]</tspan><tspan x="0" dy="20">class = No</tspan></text></g>
<g id="n89" class="n" transform="translate(3867.7,975.6)"><rect x="-89.2" width="178.3" height="90.7" fill="#a7d3f3"/><text y="20.3">'C', 'Q', 'S'&#160; &lt;= 27.15<tspan x="0" dy="20">samples = 14</tspan><tspan x="0" dy="20">value = [5, 9]</tspan><tspan x="0" dy="20">class = Yes</tspan></text></g>
<g id="n90" class="n" transform="translate(4046.7,975.6)"><rect x="-61.3" width="122.5" height="90.7" fill="#ea9a61"/><text y="20.3">Fare &lt;= 1.0<tspan x="0" dy="20">samples = 6</tspan><tspan x="0" dy="20">value = [5, 1]</tspan><tspan x="0" dy="20">class = No</tspan></text></g>
<g id="n91" class="n" transform="translate(4598.8,975.6)"><rect x="-69.8" width="139.5" height="90.7" fill="#70b8ec"/><text y="20.3">Pclass &lt;= 604.0<tspan x="0" dy="20">samples = 23</tspan><tspan x="0" dy="20">value = [5, 18]</tspan><tspan x="0" dy="20">class = Yes</tspan></text></g>
<g id="n92" class="n" transform="translate(4818.5,975.6)"><rect x="-70" width="140.1" height="90.7" fill="#f6d5bd"/><text y="20.3">Pclass &lt;= 645.5<tspan x="0" dy="20">samples = 5</tspan><tspan x="0" dy="20">value = [3, 2]</tspan><tspan x="0" dy="20">class = No</tspan></text></g>
<g id="n93" class="n" transform="translate(4974.7,985.6)"><rect x="-61.3" width="122.5" height="70.7" fill="#e58139"/><text y="20.3">samples = 7<tspan x="0" dy="20">value = [7, 0]</tspan><tspan x="0" dy="20">class = No</tspan></text></g>
<g id="n94" class="n" transform="translate(5128.8,975.6)"><rect x="-69.3" width="138.5" height="90.7" fill="#6ab6ec"/><text y="20.3">SibSp &lt;= 30.35<tspan x="0" dy="20">samples = 5</tspan><tspan x="0" dy="20">value = [1, 4]</tspan><tspan x="0" dy="20">class = Yes</tspan></text></g>
<g id="n95" class="n" transform="translate(5477.2,985.6)"><rect x="-61.2" width="122.4" height="70.7" fill="#399de5"/><text y="20.3">samples = 4<tspan x="0" dy="20">value = [0, 4]</tspan><tspan x="0" dy="20">class = Yes</tspan></text></g>
<g id="n96" class="n" transform="translate(5623.8,985.6)"><rect x="-61.2" width="122.4" height="70.7" fill="#e58139"/><text y="20.3">samples = 1<tspan x="0" dy="20">value = [1, 0]</tspan><tspan x="0" dy="20">class = No</tspan></text></g>
<g id="n97" class="n" transform="translate(5783.8,975.6)"><rect x="-74.8" width="149.6" height="90.7" fill="#e89153"/><text y="20.3">SibSp &lt;= 45.25<tspan x="0" dy="20">samples = 250</tspan><tspan x="0" dy="20">value = [221, 29]</tspan><tspan x="0" dy="20">class = No</tspan></text></g>
<g id="n98" class="n" transform="translate(5947.6,975.6)"><rect x="-65" width="129.9" height="90.7" fill="#bddef6"/><text y="20.3">SibSp &lt;= 25.5<tspan x="0" dy="20">samples = 5</tspan><tspan x="0" dy="20">value = [2, 3]</tspan><tspan x="0" dy="20">class = Yes</tspan></text></g>
<g id="n99" class="n" transform="translate(6210.9,975.6)"><rect x="-69.2" width="138.3" height="90.7" fill="#e78d4c"/><text y="20.3">SibSp &lt;= 30.75<tspan x="0" dy="20">samples = 104</tspan><tspan x="0" dy="20">value = [95, 9]</tspan><tspan x="0" dy="20">class = No</tspan></text></g>
<g id="n100" class="n" transform="translate(6369.3,985.6)"><rect x="-65.4" width="130.7" height="70.7" fill="#e58139"/><text y="20.3">samples = 46<tspan x="0" dy="20">value = [46, 0]</tspan><tspan x="0" dy="20">class = No</tspan></text></g>
<g id="n101" class="n" transform="translate(6520,985.6)"><rect x="-61" width="122" height="70.7" fill="#e58139"/><text y="20.3">samples = 1<tspan x="0" dy="20">value = [1, 0]</tspan><tspan x="0" dy="20">class = No</tspan></text></g>
<g id="n102" class="n" transform="translate(6675.9,975.6)"><rect x="-69.9" width="139.8" height="90.7" fill="#7bbeee"/><text y="20.3">Pclass &lt;= 760.0<tspan x="0" dy="20">samples = 4</tspan><tspan x="0" dy="20">value = [1, 3]</tspan><tspan x="0" dy="20">class = Yes</tspan></text></g>
<g id="n103" class="n" transform="translate(66.3,1124.3)"><rect x="-61.3" width="122.6" height="70.7" fill="#399de5"/><text y="20.3">samples = 1<tspan x="0" dy="20">value = [0, 1]</tspan><tspan x="0" dy="20">class = Yes</tspan></text></g>
<g id="n104" class="n" transform="translate(213,1124.3)"><rect x="-61.3" width="122.5" height="70.7" fill="#e58139"/><text y="20.3">samples = 1<tspan x="0" dy="20">value = [1, 0]</tspan><tspan x="0" dy="20">class = No</tspan></text></g>
<g id="n105" class="n" transform="translate(370.3,1114.3)"><rect x="-69.7" width="139.3" height="90.7" fill="#53aae8"/><text y="20.3">Pclass &lt;= 352.5<tspan x="0" dy="20">samples = 26</tspan><tspan x="0" dy="20">value = [3, 23]</tspan><tspan x="0" dy="20">class = Yes</tspan></text></g>
<g id="n106" class="n" transform="translate(534.6,1114.3)"><rect x="-69.7" width="139.3" height="90.7" fill="#3ea0e6"/><text y="20.3">Pclass &lt;= 828.5<tspan x="0" dy="20">samples = 38</tspan><tspan x="0" dy="20">value = [1, 37]</tspan><tspan x="0" dy="20">class = Yes</tspan></text></g>
<g id="n107" class="n" transform="translate(1108,1124.3)"><rect x="-65" width="130" height="70.7" fill="#399de5"/><text y="20.3">samples = 10<tspan x="0" dy="20">value = [0, 10]</tspan><tspan x="0" dy="20">class = Yes</tspan></text></g>
<g id="n108" class="n" transform="translate(1262.5,1114.3)"><rect x="-65.3" width="130.5" height="90.7" fill="#6eb7ec"/><text y="20.3">SibSp &lt;= 25.5<tspan x="0" dy="20">samples = 19</tspan><tspan x="0" dy="20">value = [4, 15]</tspan><tspan x="0" dy="20">class = Yes</tspan></text></g>
<g id="n109" class="n" transform="translate(1544.2,1114.3)"><rect x="-93.2" width="186.3" height="90.7" fill="#fbede3"/><text y="20.3">'C', 'Q', 'S'&#160; &lt;= 13.465<tspan x="0" dy="20">samples = 13</tspan><tspan x="0" dy="20">value = [7, 6]</tspan><tspan x="0" dy="20">class = No</tspan></text></g>
<g id="n110" class="n" transform="translate(1726.4,1114.3)"><rect x="-65.7" width="131.3" height="90.7" fill="#5aade9"/><text y="20.3">Parch &lt;= 2.5<tspan x="0" dy="20">samples = 14</tspan><tspan x="0" dy="20">value = [2, 12]</tspan><tspan x="0" dy="20">class = Yes</tspan></text></g>
<g id="n111" class="n" transform="translate(1876.8,1124.3)"><rect x="-61.3" width="122.5" height="70.7" fill="#399de5"/><text y="20.3">samples = 1<tspan x="0" dy="20">value = [0, 1]</tspan><tspan x="0" dy="20">class = Yes</tspan></text></g>
<g id="n112" class="n" transform="translate(2024.2,1124.3)"><rect x="-61.2" width="122.4" height="70.7" fill="#e58139"/><text y="20.3">samples = 1<tspan x="0" dy="20">value = [1, 0]</tspan><tspan x="0" dy="20">class = No</tspan></text></g>
<g id="n113" class="n" transform="translate(2170.8,1124.3)"><rect x="-61.2" width="122.4" height="70.7" fill="#e58139"/><text y="20.3">samples = 8<tspan x="0" dy="20">value = [8, 0]</tspan><tspan x="0" dy="20">class = No</tspan></text></g>
<g id="n114" class="n" transform="translate(2316.9,1124.3)"><rect x="-61.4" width="122.8" height="70.7" fill="#399de5"/><text y="20.3">samples = 1<tspan x="0" dy="20">value = [0, 1]</tspan><tspan x="0" dy="20">class = Yes</tspan></text></g>
<g id="n115" class="n" transform="translate(2491.6,1114.3)"><rect x="-89.1" width="178.2" height="90.7" fill="#6ab6ec"/><text y="20.3">'C', 'Q', 'S'&#160; &lt;= 7.123<tspan x="0" dy="20">samples = 5</tspan><tspan x="0" dy="20">value = [1, 4]</tspan><tspan x="0" dy="20">class = Yes</tspan></text></g>
<g id="n116" class="n" transform="translate(2694.5,1114.3)"><rect x="-89.5" width="178.9" height="90.7" fill="#f9e4d5"/><text y="20.3">'C', 'Q', 'S'&#160; &lt;= 8.673<tspan x="0" dy="20">samples = 25</tspan><tspan x="0" dy="20">value = [14, 11]</tspan><tspan x="0" dy="20">class = No</tspan></text></g>
<g id="n117" class="n" transform="translate(3242.3,1114.3)"><rect x="-65.3" width="130.5" height="90.7" fill="#efb286"/><text y="20.3">SibSp &lt;= 26.5<tspan x="0" dy="20">samples = 25</tspan><tspan x="0" dy="20">value = [18, 7]</tspan><tspan x="0" dy="20">class = No</tspan></text></g>
<g id="n118" class="n" transform="translate(3482.2,1114.3)"><rect x="-65.4" width="130.8" height="90.7" fill="#e78c4a"/><text y="20.3">SibSp &lt;= 33.5<tspan x="0" dy="20">samples = 13</tspan><tspan x="0" dy="20">value = [12, 1]</tspan><tspan x="0" dy="20">class = No</tspan></text></g>
<g id="n119" class="n" transform="translate(3689.6,1124.3)"><rect x="-61.3" width="122.5" height="70.7" fill="#399de5"/><text y="20.3">samples = 5<tspan x="0" dy="20">value = [0, 5]</tspan><tspan x="0" dy="20">class = Yes</tspan></text></g>
<g id="n120" class="n" transform="translate(3868.2,1114.3)"><rect x="-93.2" width="186.3" height="90.7" fill="#fae6d7"/><text y="20.3">'C', 'Q', 'S'&#160; &lt;= 72.502<tspan x="0" dy="20">samples = 9</tspan><tspan x="0" dy="20">value = [5, 4]</tspan><tspan x="0" dy="20">class = No</tspan></text></g>
<g id="n121" class="n" transform="translate(4046.8,1124.3)"><rect x="-61.3" width="122.5" height="70.7" fill="#e58139"/><text y="20.3">samples = 5<tspan x="0" dy="20">value = [5, 0]</tspan><tspan x="0" dy="20">class = No</tspan></text></g>
<g id="n122" class="n" transform="translate(4193.3,1124.3)"><rect x="-61.3" width="122.6" height="70.7" fill="#399de5"/><text y="20.3">samples = 1<tspan x="0" dy="20">value = [0, 1]</tspan><tspan x="0" dy="20">class = Yes</tspan></text></g>
<g id="n123" class="n" transform="translate(4397.2,1114.3)"><rect x="-70.2" width="140.3" height="90.7" fill="#ffffff"/><text y="20.3">Pclass &lt;= 578.5<tspan x="0" dy="20">samples = 4</tspan><tspan x="0" dy="20">value = [2, 2]</tspan><tspan x="0" dy="20">class = No</tspan></text></g>
<g id="n124" class="n" transform="translate(4598.8,1114.3)"><rect x="-69.8" width="139.5" height="90.7" fill="#5eafea"/><text y="20.3">Pclass &lt;= 666.5<tspan x="0" dy="20">samples = 19</tspan><tspan x="0" dy="20">value = [3, 16]</tspan><tspan x="0" dy="20">class = Yes</tspan></text></g>
<g id="n125" class="n" transform="translate(4822.2,1114.3)"><rect x="-61.2" width="122.4" height="90.7" fill="#9ccef2"/><text y="20.3">Fare &lt;= 0.5<tspan x="0" dy="20">samples = 3</tspan><tspan x="0" dy="20">value = [1, 2]</tspan><tspan x="0" dy="20">class = Yes</tspan></text></g>
<g id="n126" class="n" transform="translate(4968.8,1124.3)"><rect x="-61.2" width="122.4" height="70.7" fill="#e58139"/><text y="20.3">samples = 2<tspan x="0" dy="20">value = [2, 0]</tspan><tspan x="0" dy="20">class = No</tspan></text></g>
<g id="n127" class="n" transform="translate(5123.7,1124.3)"><rect x="-61.3" width="122.5" height="70.7" fill="#399de5"/><text y="20.3">samples = 3<tspan x="0" dy="20">value = [0, 3]</tspan><tspan x="0" dy="20">class = Yes</tspan></text></g>
<g id="n128" class="n" transform="translate(5279.9,1114.3)"><rect x="-70" width="140.1" height="90.7" fill="#ffffff"/><text y="20.3">Pclass &lt;= 863.0<tspan x="0" dy="20">samples = 2</tspan><tspan x="0" dy="20">value = [1, 1]</tspan><tspan x="0" dy="20">class = No</tspan></text></g>
<g id="n129" class="n" transform="translate(5619.8,1114.3)"><rect x="-74.8" width="149.6" height="90.7" fill="#e99355"/><text y="20.3">SibSp &lt;= 43.5<tspan x="0" dy="20">samples = 234</tspan><tspan x="0" dy="20">value = [205, 29]</tspan><tspan x="0" dy="20">class = No</tspan></text></g>
<g id="n130" class="n" transform="translate(5783.9,1124.3)"><rect x="-65" width="129.9" height="70.7" fill="#e58139"/><text y="20.3">samples = 16<tspan x="0" dy="20">value = [16, 0]</tspan><tspan x="0" dy="20">class = No</tspan></text></g>
<g id="n131" class="n" transform="translate(5934.5,1124.3)"><rect x="-60.8" width="121.5" height="70.7" fill="#e58139"/><text y="20.3">samples = 2<tspan x="0" dy="20">value = [2, 0]</tspan><tspan x="0" dy="20">class = No</tspan></text></g>
<g id="n132" class="n" transform="translate(6081.3,1124.3)"><rect x="-61.3" width="122.5" height="70.7" fill="#399de5"/><text y="20.3">samples = 3<tspan x="0" dy="20">value = [0, 3]</tspan><tspan x="0" dy="20">class = Yes</tspan></text></g>
<g id="n133" class="n" transform="translate(6232,1114.3)"><rect x="-65.3" width="130.6" height="90.7" fill="#e78b48"/><text y="20.3">Fare &lt;= 0.5<tspan x="0" dy="20">samples = 98</tspan><tspan x="0" dy="20">value = [91, 7]</tspan><tspan x="0" dy="20">class = No</tspan></text></g>
<g id="n134" class="n" transform="translate(6503.9,1114.3)"><rect x="-69.9" width="139.7" height="90.7" fill="#f2c09c"/><text y="20.3">Pclass &lt;= 747.5<tspan x="0" dy="20">samples = 6</tspan><tspan x="0" dy="20">value = [4, 2]</tspan><tspan x="0" dy="20">class = No</tspan></text></g>
<g id="n135" class="n" transform="translate(6670.3,1124.3)"><rect x="-61.3" width="122.5" height="70.7" fill="#399de5"/><text y="20.3">samples = 3<tspan x="0" dy="20">value = [0, 3]</tspan><tspan x="0" dy="20">class = Yes</tspan></text></g>
<g id="n136" class="n" transform="translate(6816.8,1124.3)"><rect x="-61.2" width="122.4" height="70.7" fill="#e58139"/><text y="20.3">samples = 1<tspan x="0" dy="20">value = [1, 0]</tspan><tspan x="0" dy="20">class = No</tspan></text></g>
<g id="n137" class="n" transform="translate(222.3,1253)"><rect x="-65.3" width="130.5" height="90.7" fill="#4aa5e7"/><text y="20.3">SibSp &lt;= 27.5<tspan x="0" dy="20">samples = 25</tspan><tspan x="0" dy="20">value = [2, 23]</tspan><tspan x="0" dy="20">class = Yes</tspan></text></g>
<g id="n138" class="n" transform="translate(373,1263)"><rect x="-61.3" width="122.5" height="70.7" fill="#e58139"/><text y="20.3">samples = 1<tspan x="0" dy="20">value = [1, 0]</tspan><tspan x="0" dy="20">class = No</tspan></text></g>
<g id="n139" class="n" transform="translate(528,1263)"><rect x="-65.3" width="130.5" height="70.7" fill="#399de5"/><text y="20.3">samples = 32<tspan x="0" dy="20">value = [0, 32]</tspan><tspan x="0" dy="20">class = Yes</tspan></text></g>
<g id="n140" class="n" transform="translate(688,1253)"><rect x="-69.7" width="139.3" height="90.7" fill="#61b1ea"/><text y="20.3">Pclass &lt;= 859.0<tspan x="0" dy="20">samples = 6</tspan><tspan x="0" dy="20">value = [1, 5]</tspan><tspan x="0" dy="20">class = Yes</tspan></text></g>
<g id="n141" class="n" transform="translate(1063.8,1263)"><rect x="-61.2" width="122.4" height="70.7" fill="#e58139"/><text y="20.3">samples = 1<tspan x="0" dy="20">value = [1, 0]</tspan><tspan x="0" dy="20">class = No</tspan></text></g>
<g id="n142" class="n" transform="translate(1219.6,1253)"><rect x="-70" width="140.1" height="90.7" fill="#61b1ea"/><text y="20.3">Pclass &lt;= 270.0<tspan x="0" dy="20">samples = 18</tspan><tspan x="0" dy="20">value = [3, 15]</tspan><tspan x="0" dy="20">class = Yes</tspan></text></g>
<g id="n143" class="n" transform="translate(1375.8,1263)"><rect x="-61.2" width="122.4" height="70.7" fill="#399de5"/><text y="20.3">samples = 3<tspan x="0" dy="20">value = [0, 3]</tspan><tspan x="0" dy="20">class = Yes</tspan></text></g>
<g id="n144" class="n" transform="translate(1554.2,1253)"><rect x="-93.3" width="186.5" height="90.7" fill="#f0b78e"/><text y="20.3">'C', 'Q', 'S'&#160; &lt;= 21.717<tspan x="0" dy="20">samples = 10</tspan><tspan x="0" dy="20">value = [7, 3]</tspan><tspan x="0" dy="20">class = No</tspan></text></g>
<g id="n145" class="n" transform="translate(1760.8,1253)"><rect x="-89.2" width="178.3" height="90.7" fill="#49a5e7"/><text y="20.3">'C', 'Q', 'S'&#160; &lt;= 14.85<tspan x="0" dy="20">samples = 13</tspan><tspan x="0" dy="20">value = [1, 12]</tspan><tspan x="0" dy="20">class = Yes</tspan></text></g>
<g id="n146" class="n" transform="translate(1936.2,1263)"><rect x="-61.2" width="122.4" height="70.7" fill="#e58139"/><text y="20.3">samples = 1<tspan x="0" dy="20">value = [1, 0]</tspan><tspan x="0" dy="20">class = No</tspan></text></g>
<g id="n147" class="n" transform="translate(2344.8,1263)"><rect x="-61.2" width="122.3" height="70.7" fill="#e58139"/><text y="20.3">samples = 1<tspan x="0" dy="20">value = [1, 0]</tspan><tspan x="0" dy="20">class = No</tspan></text></g>
<g id="n148" class="n" transform="translate(2491.4,1263)"><rect x="-61.4" width="122.8" height="70.7" fill="#399de5"/><text y="20.3">samples = 4<tspan x="0" dy="20">value = [0, 4]</tspan><tspan x="0" dy="20">class = Yes</tspan></text></g>
<g id="n149" class="n" transform="translate(2666.1,1253)"><rect x="-89.2" width="178.3" height="90.7" fill="#efb083"/><text y="20.3">'C', 'Q', 'S'&#160; &lt;= 7.877<tspan x="0" dy="20">samples = 11</tspan><tspan x="0" dy="20">value = [8, 3]</tspan><tspan x="0" dy="20">class = No</tspan></text></g>
<g id="n150" class="n" transform="translate(2873,1253)"><rect x="-93.5" width="187" height="90.7" fill="#cee6f8"/><text y="20.3">'C', 'Q', 'S'&#160; &lt;= 10.179<tspan x="0" dy="20">samples = 14</tspan><tspan x="0" dy="20">value = [6, 8]</tspan><tspan x="0" dy="20">class = Yes</tspan></text></g>
<g id="n151" class="n" transform="translate(3086.3,1263)"><rect x="-61.3" width="122.6" height="70.7" fill="#399de5"/><text y="20.3">samples = 2<tspan x="0" dy="20">value = [0, 2]</tspan><tspan x="0" dy="20">class = Yes</tspan></text></g>
<g id="n152" class="n" transform="translate(3242.6,1253)"><rect x="-70" width="140" height="90.7" fill="#eca470"/><text y="20.3">Pclass &lt;= 187.0<tspan x="0" dy="20">samples = 23</tspan><tspan x="0" dy="20">value = [18, 5]</tspan><tspan x="0" dy="20">class = No</tspan></text></g>
<g id="n153" class="n" transform="translate(3398.5,1263)"><rect x="-61.8" width="123.5" height="70.7" fill="#e58139"/><text y="20.3">samples = 8<tspan x="0" dy="20">value = [8, 0]</tspan><tspan x="0" dy="20">class = No</tspan></text></g>
<g id="n154" class="n" transform="translate(3554.5,1253)"><rect x="-70" width="140.1" height="90.7" fill="#eca16b"/><text y="20.3">Pclass &lt;= 235.5<tspan x="0" dy="20">samples = 5</tspan><tspan x="0" dy="20">value = [4, 1]</tspan><tspan x="0" dy="20">class = No</tspan></text></g>
<g id="n155" class="n" transform="translate(3844.3,1253)"><rect x="-64.9" width="129.8" height="90.7" fill="#eca16b"/><text y="20.3">SibSp &lt;= 51.0<tspan x="0" dy="20">samples = 5</tspan><tspan x="0" dy="20">value = [4, 1]</tspan><tspan x="0" dy="20">class = No</tspan></text></g>
<g id="n156" class="n" transform="translate(3997.5,1253)"><rect x="-65" width="129.9" height="90.7" fill="#7bbeee"/><text y="20.3">SibSp &lt;= 21.5<tspan x="0" dy="20">samples = 4</tspan><tspan x="0" dy="20">value = [1, 3]</tspan><tspan x="0" dy="20">class = Yes</tspan></text></g>
<g id="n157" class="n" transform="translate(4246.2,1263)"><rect x="-61.2" width="122.4" height="70.7" fill="#399de5"/><text y="20.3">samples = 1<tspan x="0" dy="20">value = [0, 1]</tspan><tspan x="0" dy="20">class = Yes</tspan></text></g>
<g id="n158" class="n" transform="translate(4397.3,1253)"><rect x="-64.9" width="129.8" height="90.7" fill="#f2c09c"/><text y="20.3">SibSp &lt;= 42.5<tspan x="0" dy="20">samples = 3</tspan><tspan x="0" dy="20">value = [2, 1]</tspan><tspan x="0" dy="20">class = No</tspan></text></g>
<g id="n159" class="n" transform="translate(4547.7,1263)"><rect x="-61.3" width="122.6" height="70.7" fill="#399de5"/><text y="20.3">samples = 7<tspan x="0" dy="20">value = [0, 7]</tspan><tspan x="0" dy="20">class = Yes</tspan></text></g>
<g id="n160" class="n" transform="translate(4698.5,1253)"><rect x="-64.5" width="129" height="90.7" fill="#7bbeee"/><text y="20.3">SibSp &lt;= 48.5<tspan x="0" dy="20">samples = 12</tspan><tspan x="0" dy="20">value = [3, 9]</tspan><tspan x="0" dy="20">class = Yes</tspan></text></g>
<g id="n161" class="n" transform="translate(4851.9,1253)"><rect x="-64.5" width="129" height="90.7" fill="#ffffff"/><text y="20.3">SibSp &lt;= 70.5<tspan x="0" dy="20">samples = 2</tspan><tspan x="0" dy="20">value = [1, 1]</tspan><tspan x="0" dy="20">class = No</tspan></text></g>
<g id="n162" class="n" transform="translate(5002.6,1263)"><rect x="-61.3" width="122.5" height="70.7" fill="#399de5"/><text y="20.3">samples = 1<tspan x="0" dy="20">value = [0, 1]</tspan><tspan x="0" dy="20">class = Yes</tspan></text></g>
<g id="n163" class="n" transform="translate(5149.2,1263)"><rect x="-61.3" width="122.5" height="70.7" fill="#399de5"/><text y="20.3">samples = 1<tspan x="0" dy="20">value = [0, 1]</tspan><tspan x="0" dy="20">class = Yes</tspan></text></g>
<g id="n164" class="n" transform="translate(5296,1263)"><rect x="-61.3" width="122.5" height="70.7" fill="#e58139"/><text y="20.3">samples = 1<tspan x="0" dy="20">value = [1, 0]</tspan><tspan x="0" dy="20">class = No</tspan></text></g>
<g id="n165" class="n" transform="translate(5455.8,1253)"><rect x="-74.5" width="148.9" height="90.7" fill="#e89253"/><text y="20.3">Pclass &lt;= 37.5<tspan x="0" dy="20">samples = 229</tspan><tspan x="0" dy="20">value = [202, 27]</tspan><tspan x="0" dy="20">class = No</tspan></text></g>
<g id="n166" class="n" transform="translate(5625.1,1253)"><rect x="-70.2" width="140.3" height="90.7" fill="#f6d5bd"/><text y="20.3">Pclass &lt;= 288.0<tspan x="0" dy="20">samples = 5</tspan><tspan x="0" dy="20">value = [3, 2]</tspan><tspan x="0" dy="20">class = No</tspan></text></g>
<g id="n167" class="n" transform="translate(6039.8,1253)"><rect x="-89.2" width="178.3" height="90.7" fill="#e68845"/><text y="20.3">'C', 'Q', 'S'&#160; &lt;= 7.013<tspan x="0" dy="20">samples = 90</tspan><tspan x="0" dy="20">value = [85, 5]</tspan><tspan x="0" dy="20">class = No</tspan></text></g>
<g id="n168" class="n" transform="translate(6246.3,1253)"><rect x="-93.3" width="186.6" height="90.7" fill="#eeab7b"/><text y="20.3">'C', 'Q', 'S'&#160; &lt;= 17.996<tspan x="0" dy="20">samples = 8</tspan><tspan x="0" dy="20">value = [6, 2]</tspan><tspan x="0" dy="20">class = No</tspan></text></g>
<g id="n169" class="n" transform="translate(6503.8,1253)"><rect x="-60.8" width="121.6" height="90.7" fill="#9ccef2"/><text y="20.3">Parch &lt;= 0.5<tspan x="0" dy="20">samples = 3</tspan><tspan x="0" dy="20">value = [1, 2]</tspan><tspan x="0" dy="20">class = Yes</tspan></text></g>
<g id="n170" class="n" transform="translate(6650.7,1263)"><rect x="-61.2" width="122.4" height="70.7" fill="#e58139"/><text y="20.3">samples = 3<tspan x="0" dy="20">value = [3, 0]</tspan><tspan x="0" dy="20">class = No</tspan></text></g>
<g id="n171" class="n" transform="translate(147.8,1391.7)"><rect x="-61.3" width="122.5" height="70.7" fill="#6ab6ec"/><text y="20.3">samples = 10<tspan x="0" dy="20">value = [2, 8]</tspan><tspan x="0" dy="20">class = Yes</tspan></text></g>
<g id="n172" class="n" transform="translate(298.4,1391.7)"><rect x="-65.4" width="130.8" height="70.7" fill="#399de5"/><text y="20.3">samples = 15<tspan x="0" dy="20">value = [0, 15]</tspan><tspan x="0" dy="20">class = Yes</tspan></text></g>
<g id="n173" class="n" transform="translate(615,1391.7)"><rect x="-61.3" width="122.5" height="70.7" fill="#e58139"/><text y="20.3">samples = 1<tspan x="0" dy="20">value = [1, 0]</tspan><tspan x="0" dy="20">class = No</tspan></text></g>
<g id="n174" class="n" transform="translate(761.7,1391.7)"><rect x="-61.3" width="122.5" height="70.7" fill="#399de5"/><text y="20.3">samples = 5<tspan x="0" dy="20">value = [0, 5]</tspan><tspan x="0" dy="20">class = Yes</tspan></text></g>
<g id="n175" class="n" transform="translate(1109.8,1391.7)"><rect x="-61" width="122" height="70.7" fill="#83c2ef"/><text y="20.3">samples = 11<tspan x="0" dy="20">value = [3, 8]</tspan><tspan x="0" dy="20">class = Yes</tspan></text></g>
<g id="n176" class="n" transform="translate(1256.3,1391.7)"><rect x="-61.3" width="122.5" height="70.7" fill="#399de5"/><text y="20.3">samples = 7<tspan x="0" dy="20">value = [0, 7]</tspan><tspan x="0" dy="20">class = Yes</tspan></text></g>
<g id="n177" class="n" transform="translate(1422.8,1391.7)"><rect x="-61.3" width="122.5" height="70.7" fill="#eca572"/><text y="20.3">samples = 9<tspan x="0" dy="20">value = [7, 2]</tspan><tspan x="0" dy="20">class = No</tspan></text></g>
<g id="n178" class="n" transform="translate(1568.7,1391.7)"><rect x="-61.3" width="122.6" height="70.7" fill="#399de5"/><text y="20.3">samples = 1<tspan x="0" dy="20">value = [0, 1]</tspan><tspan x="0" dy="20">class = Yes</tspan></text></g>
<g id="n179" class="n" transform="translate(1731.4,1391.7)"><rect x="-61.4" width="122.7" height="70.7" fill="#ffffff"/><text y="20.3">samples = 2<tspan x="0" dy="20">value = [1, 1]</tspan><tspan x="0" dy="20">class = No</tspan></text></g>
<g id="n180" class="n" transform="translate(1882.3,1391.7)"><rect x="-65.3" width="130.5" height="70.7" fill="#399de5"/><text y="20.3">samples = 11<tspan x="0" dy="20">value = [0, 11]</tspan><tspan x="0" dy="20">class = Yes</tspan></text></g>
<g id="n181" class="n" transform="translate(2519.9,1391.7)"><rect x="-60.9" width="121.7" height="70.7" fill="#ffffff"/><text y="20.3">samples = 6<tspan x="0" dy="20">value = [3, 3]</tspan><tspan x="0" dy="20">class = No</tspan></text></g>
<g id="n182" class="n" transform="translate(2666.2,1391.7)"><rect x="-61.2" width="122.4" height="70.7" fill="#e58139"/><text y="20.3">samples = 5<tspan x="0" dy="20">value = [5, 0]</tspan><tspan x="0" dy="20">class = No</tspan></text></g>
<g id="n183" class="n" transform="translate(2813.6,1391.7)"><rect x="-61.3" width="122.5" height="70.7" fill="#399de5"/><text y="20.3">samples = 3<tspan x="0" dy="20">value = [0, 3]</tspan><tspan x="0" dy="20">class = Yes</tspan></text></g>
<g id="n184" class="n" transform="translate(2960.3,1391.7)"><rect x="-61.3" width="122.5" height="70.7" fill="#fbeade"/><text y="20.3">samples = 11<tspan x="0" dy="20">value = [6, 5]</tspan><tspan x="0" dy="20">class = No</tspan></text></g>
<g id="n185" class="n" transform="translate(3110.3,1391.7)"><rect x="-65.3" width="130.5" height="70.7" fill="#e88e4d"/><text y="20.3">samples = 11<tspan x="0" dy="20">value = [10, 1]</tspan><tspan x="0" dy="20">class = No</tspan></text></g>
<g id="n186" class="n" transform="translate(3260.9,1391.7)"><rect x="-61.2" width="122.3" height="70.7" fill="#f2c09c"/><text y="20.3">samples = 12<tspan x="0" dy="20">value = [8, 4]</tspan><tspan x="0" dy="20">class = No</tspan></text></g>
<g id="n187" class="n" transform="translate(3407.7,1391.7)"><rect x="-61.3" width="122.6" height="70.7" fill="#ffffff"/><text y="20.3">samples = 2<tspan x="0" dy="20">value = [1, 1]</tspan><tspan x="0" dy="20">class = No</tspan></text></g>
<g id="n188" class="n" transform="translate(3554.6,1391.7)"><rect x="-61.3" width="122.5" height="70.7" fill="#e58139"/><text y="20.3">samples = 3<tspan x="0" dy="20">value = [3, 0]</tspan><tspan x="0" dy="20">class = No</tspan></text></g>
<g id="n189" class="n" transform="translate(3701.3,1391.7)"><rect x="-61.3" width="122.5" height="70.7" fill="#e58139"/><text y="20.3">samples = 4<tspan x="0" dy="20">value = [4, 0]</tspan><tspan x="0" dy="20">class = No</tspan></text></g>
<g id="n190" class="n" transform="translate(3848,1391.7)"><rect x="-61.3" width="122.5" height="70.7" fill="#399de5"/><text y="20.3">samples = 1<tspan x="0" dy="20">value = [0, 1]</tspan><tspan x="0" dy="20">class = Yes</tspan></text></g>
<g id="n191" class="n" transform="translate(3994.7,1391.7)"><rect x="-61.3" width="122.5" height="70.7" fill="#e58139"/><text y="20.3">samples = 1<tspan x="0" dy="20">value = [1, 0]</tspan><tspan x="0" dy="20">class = No</tspan></text></g>
<g id="n192" class="n" transform="translate(4141.3,1391.7)"><rect x="-61.3" width="122.5" height="70.7" fill="#399de5"/><text y="20.3">samples = 3<tspan x="0" dy="20">value = [0, 3]</tspan><tspan x="0" dy="20">class = Yes</tspan></text></g>
<g id="n193" class="n" transform="translate(4288,1391.7)"><rect x="-61.3" width="122.5" height="70.7" fill="#e58139"/><text y="20.3">samples = 2<tspan x="0" dy="20">value = [2, 0]</tspan><tspan x="0" dy="20">class = No</tspan></text></g>
<g id="n194" class="n" transform="translate(4434.7,1391.7)"><rect x="-61.3" width="122.6" height="70.7" fill="#399de5"/><text y="20.3">samples = 1<tspan x="0" dy="20">value = [0, 1]</tspan><tspan x="0" dy="20">class = Yes</tspan></text></g>
<g id="n195" class="n" transform="translate(4580.7,1391.7)"><rect x="-61.3" width="122.6" height="70.7" fill="#65b3eb"/><text y="20.3">samples = 11<tspan x="0" dy="20">value = [2, 9]</tspan><tspan x="0" dy="20">class = Yes</tspan></text></g>
<g id="n196" class="n" transform="translate(4728.3,1391.7)"><rect x="-61.3" width="122.6" height="70.7" fill="#e58139"/><text y="20.3">samples = 1<tspan x="0" dy="20">value = [1, 0]</tspan><tspan x="0" dy="20">class = No</tspan></text></g>
<g id="n197" class="n" transform="translate(4875,1391.7)"><rect x="-61.2" width="122.4" height="70.7" fill="#e58139"/><text y="20.3">samples = 1<tspan x="0" dy="20">value = [1, 0]</tspan><tspan x="0" dy="20">class = No</tspan></text></g>
<g id="n198" class="n" transform="translate(5021.7,1391.7)"><rect x="-61.3" width="122.6" height="70.7" fill="#399de5"/><text y="20.3">samples = 1<tspan x="0" dy="20">value = [0, 1]</tspan><tspan x="0" dy="20">class = Yes</tspan></text></g>
<g id="n199" class="n" transform="translate(5296,1391.7)"><rect x="-61.3" width="122.5" height="70.7" fill="#efb083"/><text y="20.3">samples = 11<tspan x="0" dy="20">value = [8, 3]</tspan><tspan x="0" dy="20">class = No</tspan></text></g>
<g id="n200" class="n" transform="translate(5455.8,1391.7)"><rect x="-74.5" width="148.9" height="70.7" fill="#e89151"/><text y="20.3">samples = 218<tspan x="0" dy="20">value = [194, 24]</tspan><tspan x="0" dy="20">class = No</tspan></text></g>
<g id="n201" class="n" transform="translate(5615.8,1391.7)"><rect x="-61.3" width="122.5" height="70.7" fill="#e58139"/><text y="20.3">samples = 3<tspan x="0" dy="20">value = [3, 0]</tspan><tspan x="0" dy="20">class = No</tspan></text></g>
<g id="n202" class="n" transform="translate(5762.7,1391.7)"><rect x="-61.2" width="122.3" height="70.7" fill="#399de5"/><text y="20.3">samples = 2<tspan x="0" dy="20">value = [0, 2]</tspan><tspan x="0" dy="20">class = Yes</tspan></text></g>
<g id="n203" class="n" transform="translate(5909.2,1391.7)"><rect x="-61.2" width="122.3" height="70.7" fill="#eeab7b"/><text y="20.3">samples = 4<tspan x="0" dy="20">value = [3, 1]</tspan><tspan x="0" dy="20">class = No</tspan></text></g>
<g id="n204" class="n" transform="translate(6059.8,1391.7)"><rect x="-65.3" width="130.5" height="70.7" fill="#e68743"/><text y="20.3">samples = 86<tspan x="0" dy="20">value = [82, 4]</tspan><tspan x="0" dy="20">class = No</tspan></text></g>
<g id="n205" class="n" transform="translate(6210.5,1391.7)"><rect x="-61.2" width="122.3" height="70.7" fill="#399de5"/><text y="20.3">samples = 2<tspan x="0" dy="20">value = [0, 2]</tspan><tspan x="0" dy="20">class = Yes</tspan></text></g>
<g id="n206" class="n" transform="translate(6356.9,1391.7)"><rect x="-61.1" width="122.2" height="70.7" fill="#e58139"/><text y="20.3">samples = 6<tspan x="0" dy="20">value = [6, 0]</tspan><tspan x="0" dy="20">class = No</tspan></text></g>
<g id="n207" class="n" transform="translate(6504.2,1391.7)"><rect x="-61.2" width="122.4" height="70.7" fill="#399de5"/><text y="20.3">samples = 2<tspan x="0" dy="20">value = [0, 2]</tspan><tspan x="0" dy="20">class = Yes</tspan></text></g>
<g id="n208" class="n" transform="translate(6650.7,1391.7)"><rect x="-61.2" width="122.4" height="70.7" fill="#e58139"/><text y="20.3">samples = 1<tspan x="0" dy="20">value = [1, 0]</tspan><tspan x="0" dy="20">class = No</tspan></text></g>
</svg>
